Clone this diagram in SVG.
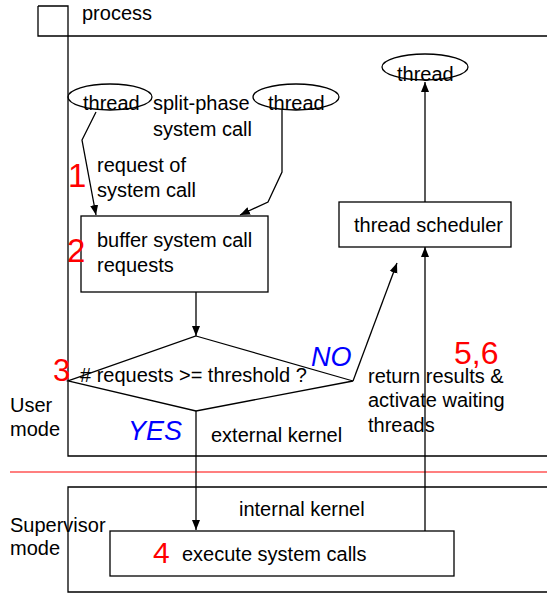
<svg xmlns="http://www.w3.org/2000/svg" width="547" height="593" viewBox="0 0 547 593">
  <style>
    .ln { fill: none; stroke: #000; stroke-width: 1.3; }
    .bx { fill: #fff; stroke: #000; stroke-width: 1.3; }
    .t { font-family: "Liberation Sans", Arial, sans-serif; font-size: 20px; fill: #000; }
    .red { font-family: "Liberation Sans", Arial, sans-serif; fill: #ff0000; }
    .blue { font-family: "Liberation Sans", Arial, sans-serif; font-style: italic; font-size: 27px; fill: #0000ff; }
  </style>
  <defs>
    <marker id="arr" viewBox="0 0 10 10" refX="10" refY="5" markerWidth="10" markerHeight="10" markerUnits="userSpaceOnUse" orient="auto">
      <path d="M0,1 L10,5 L0,9 Z" fill="#000"/>
    </marker>
  </defs>
  <rect width="547" height="593" fill="#fff"/>

  <!-- process frame (user mode) -->
  <g id="process">
    <path class="ln" d="M38,6 H68 V36 M38,6 V36 H547 M68,36 V456 H547"/>
    <text class="t" x="82" y="20">process</text>
  </g>

  <!-- mode separator -->
  <line x1="10" y1="472" x2="547" y2="472" stroke="#ff0000" stroke-width="1.2"/>
  <g id="user-mode">
    <text class="t" x="10" y="412">User</text>
    <text class="t" x="10" y="436">mode</text>
  </g>
  <g id="supervisor-mode">
    <text class="t" x="10" y="532">Supervisor</text>
    <text class="t" x="10" y="555">mode</text>
  </g>

  <!-- internal kernel frame -->
  <g id="internal-kernel">
    <path class="ln" d="M548,487 H68 V592 H548"/>
    <text class="t" x="239" y="516">internal kernel</text>
  </g>

  <!-- connectors -->
  <g id="connectors">
    <polyline class="ln" points="96,112 82,140 96,215" marker-end="url(#arr)"/>
    <polyline class="ln" points="282,110 282,172 268,202 240,215" marker-end="url(#arr)"/>
    <line class="ln" x1="196" y1="292" x2="196" y2="336" marker-end="url(#arr)"/>
    <line class="ln" x1="196" y1="411" x2="196" y2="530" marker-end="url(#arr)"/>
    <line class="ln" x1="353" y1="381" x2="397" y2="263" marker-end="url(#arr)"/>
    <line class="ln" x1="425" y1="531" x2="425" y2="247" marker-end="url(#arr)"/>
    <line class="ln" x1="425" y1="202" x2="425" y2="82" marker-end="url(#arr)"/>
  </g>

  <!-- threads -->
  <g id="thread-1">
    <ellipse class="ln" cx="110" cy="97" rx="42" ry="13"/>
    <text class="t" x="83" y="110">thread</text>
  </g>
  <g id="thread-2">
    <ellipse class="ln" cx="296" cy="97" rx="43" ry="13"/>
    <text class="t" x="268" y="110">thread</text>
  </g>
  <g id="thread-3">
    <ellipse class="ln" cx="425" cy="67" rx="43" ry="13"/>
    <text class="t" x="397" y="81">thread</text>
  </g>

  <g id="split-phase-label">
    <text class="t" x="153" y="110">split-phase</text>
    <text class="t" x="153" y="136">system call</text>
  </g>

  <g id="request-label">
    <text class="red" x="68" y="187" font-size="33">1</text>
    <text class="t" x="97" y="172">request of</text>
    <text class="t" x="97" y="197">system call</text>
  </g>

  <g id="buffer">
    <rect class="bx" x="81" y="216" width="187" height="76"/>
    <text class="red" x="67" y="262" font-size="33">2</text>
    <text class="t" x="97" y="247">buffer system call</text>
    <text class="t" x="97" y="272">requests</text>
  </g>

  <g id="scheduler">
    <rect class="bx" x="339" y="202" width="172" height="45"/>
    <text class="t" x="354" y="232">thread scheduler</text>
  </g>

  <g id="decision">
    <polygon class="bx" fill="none" points="196,336 353,381 196,411 68,381"/>
    <text class="red" x="53" y="381" font-size="31">3</text>
    <text class="t" x="80" y="382"># requests &gt;= threshold ?</text>
  </g>

  <g id="no-branch">
    <text class="blue" x="311" y="366">NO</text>
    <text class="red" x="454" y="364" font-size="32">5,6</text>
    <text class="t" x="368" y="383">return results &amp;</text>
    <text class="t" x="368" y="407">activate waiting</text>
    <text class="t" x="368" y="432">threads</text>
  </g>

  <g id="yes-branch">
    <text class="blue" x="128" y="440">YES</text>
    <text class="t" x="211" y="442">external kernel</text>
  </g>

  <g id="execute">
    <rect class="bx" x="110" y="531" width="344" height="45"/>
    <text class="red" x="153" y="563" font-size="30">4</text>
    <text class="t" x="182" y="561">execute system calls</text>
  </g>
</svg>
